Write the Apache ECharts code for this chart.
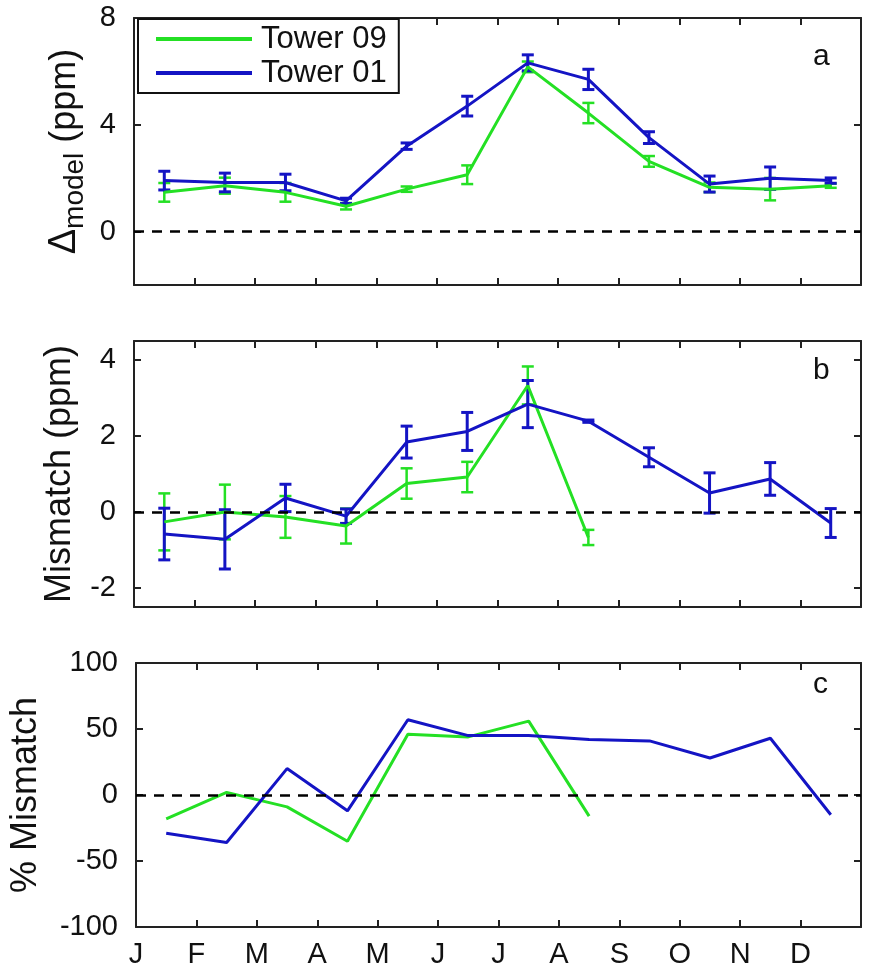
<!DOCTYPE html>
<html>
<head>
<meta charset="utf-8">
<script src="https://cdn.jsdelivr.net/npm/echarts@6/dist/echarts.min.js"></script>
<style>
html,body{margin:0;padding:0;background:#fff;}
#chart{width:873px;height:971px;}
</style>
</head>
<body>
<div id="chart"></div>
<script>
// ---------- data ----------
const months = ['J','F','M','A','M','J','J','A','S','O','N','D'];
const seriesNames = ['Tower 09','Tower 01'];

// panel a: Δmodel (ppm)
const t09Delta    = [1.47, 1.72, 1.47, 0.95, 1.59, 2.13, 6.17, 4.44, 2.63, 1.66, 1.59, 1.72];
const t09DeltaErr = [0.35, 0.30, 0.35, 0.12, 0.10, 0.35, 0.20, 0.38, 0.20, 0.18, 0.42, 0.08];
const t01Delta    = [1.91, 1.84, 1.84, 1.15, 3.20, 4.70, 6.32, 5.70, 3.52, 1.78, 2.00, 1.91];
const t01DeltaErr = [0.35, 0.35, 0.31, 0.10, 0.12, 0.37, 0.30, 0.38, 0.22, 0.30, 0.42, 0.10];

// panel b: Mismatch (ppm)
const t09Mis    = [-0.26, 0.00, -0.13, -0.37, 0.75, 0.92, 3.33, -0.67];
const t09MisErr = [0.75, 0.72, 0.55, 0.46, 0.40, 0.40, 0.50, 0.20];
const t01Mis    = [-0.58, -0.72, 0.37, -0.11, 1.84, 2.12, 2.84, 2.39, 1.44, 0.50, 0.87, -0.29];
const t01MisErr = [0.68, 0.78, 0.36, 0.19, 0.42, 0.50, 0.62, 0.03, 0.25, 0.53, 0.43, 0.38];

// panel c: % Mismatch
const t09Pct = [-18, 2, -9, -35, 46, 44, 56, -16];
const t01Pct = [-29, -36, 20, -12, 57, 45, 45, 42, 41, 28, 43, -15];

// tick values
const yTicksA = [0, 4, 8];
const yTicksB = [-2, 0, 2, 4];
const yTicksC = [-100, -50, 0, 50, 100];

// ---------- styling ----------
const GREEN = '#24e024';
const BLUE = '#1414c4';
const FONT = "'Liberation Sans', Arial, Helvetica, sans-serif";

const pts = arr => arr.map((v, i) => [i + 0.5, v]);
const errs = (vals, e) => vals.map((v, i) => [i + 0.5, v - e[i], v + e[i]]);

function errRender(color, lw) {
  return function (params, api) {
    const x = api.value(0);
    const p1 = api.coord([x, api.value(1)]);
    const p2 = api.coord([x, api.value(2)]);
    const hw = 6;
    const st = { stroke: color, lineWidth: lw };
    return {
      type: 'group',
      children: [
        { type: 'line', shape: { x1: p1[0], y1: p1[1], x2: p2[0], y2: p2[1] }, style: st },
        { type: 'line', shape: { x1: p1[0] - hw, y1: p1[1], x2: p1[0] + hw, y2: p1[1] }, style: st },
        { type: 'line', shape: { x1: p2[0] - hw, y1: p2[1], x2: p2[0] + hw, y2: p2[1] }, style: st }
      ]
    };
  };
}

const grids = [
  { left: 134, right: 12, top: 18, height: 267 },
  { left: 134, right: 12, top: 341, height: 266 },
  { left: 134, right: 12, top: 663, height: 264 }
];

const axisLineStyle = { show: true, onZero: false, lineStyle: { color: '#222', width: 2 } };
const tickStyle = { show: true, inside: true, length: 7, lineStyle: { color: '#222', width: 2 } };

const xAxes = [];
const yAxes = [];
grids.forEach((g, gi) => {
  xAxes.push({
    type: 'value', gridIndex: gi, position: 'bottom', min: 0, max: 12, interval: 1,
    axisLine: axisLineStyle, axisTick: tickStyle, splitLine: { show: false },
    axisLabel: {
      show: gi === 2, margin: 13, fontSize: 29, color: '#111', fontFamily: FONT,
      formatter: v => months[v] || ''
    }
  });
  xAxes.push({
    type: 'value', gridIndex: gi, position: 'top', min: 0, max: 12, interval: 1,
    axisLine: axisLineStyle, axisTick: tickStyle, splitLine: { show: false },
    axisLabel: { show: false }
  });
});

const yCfg = [
  { min: -2, max: 8, ticks: yTicksA, name: '{d|Δ}{s|model}{p| (ppm)}', gap: 44 },
  { min: -2.5, max: 4.5, ticks: yTicksB, name: 'Mismatch (ppm)', gap: 56 },
  { min: -100, max: 100, ticks: yTicksC, name: '% Mismatch', gap: 92 }
];
yCfg.forEach((c, gi) => {
  yAxes.push({
    type: 'value', gridIndex: gi, position: 'left', min: c.min, max: c.max,
    axisLine: axisLineStyle,
    axisTick: Object.assign({}, tickStyle, { customValues: c.ticks }),
    splitLine: { show: false },
    axisLabel: { customValues: c.ticks, margin: 18, fontSize: 29, color: '#111', fontFamily: FONT },
    name: c.name, nameLocation: 'middle', nameRotate: 90, nameGap: c.gap,
    nameTextStyle: {
      fontSize: 36, color: '#111', fontFamily: FONT,
      rich: {
        d: { fontSize: 38, fontFamily: FONT, color: '#111', verticalAlign: 'middle' },
        s: { fontSize: 28, fontFamily: FONT, color: '#111', verticalAlign: 'bottom', padding: [20, 0, 0, 0] },
        p: { fontSize: 36, fontFamily: FONT, color: '#111', verticalAlign: 'middle' }
      }
    }
  });
  yAxes.push({
    type: 'value', gridIndex: gi, position: 'right', min: c.min, max: c.max,
    axisLine: axisLineStyle,
    axisTick: Object.assign({}, tickStyle, { customValues: c.ticks }),
    splitLine: { show: false },
    axisLabel: { show: false }
  });
});

const zeroLine = {
  silent: true, symbol: 'none', label: { show: false },
  lineStyle: { type: [10, 8], color: '#000', width: 2.5 },
  data: [{ yAxis: 0 }]
};

function lineSeries(name, data, gi, color, width, withZero) {
  const s = {
    type: 'line', name: name, data: data, xAxisIndex: gi * 2, yAxisIndex: gi * 2,
    symbol: 'none', showSymbol: false, lineStyle: { color: color, width: width },
    itemStyle: { color: color }, z: 3
  };
  if (withZero) s.markLine = zeroLine;
  return s;
}
function errSeries(name, data, gi, color, width) {
  return {
    type: 'custom', name: name, data: data, xAxisIndex: gi * 2, yAxisIndex: gi * 2,
    renderItem: errRender(color, width), encode: { x: 0, y: [1, 2] }, z: 3
  };
}

const series = [
  // panel a
  lineSeries('Tower 09', pts(t09Delta), 0, GREEN, 3, true),
  errSeries('Tower 09 err a', errs(t09Delta, t09DeltaErr), 0, GREEN, 2.5),
  lineSeries('Tower 01', pts(t01Delta), 0, BLUE, 3, false),
  errSeries('Tower 01 err a', errs(t01Delta, t01DeltaErr), 0, BLUE, 3),
  // panel b
  lineSeries('Tower 09', pts(t09Mis), 1, GREEN, 3, true),
  errSeries('Tower 09 err b', errs(t09Mis, t09MisErr), 1, GREEN, 2.5),
  lineSeries('Tower 01', pts(t01Mis), 1, BLUE, 3, false),
  errSeries('Tower 01 err b', errs(t01Mis, t01MisErr), 1, BLUE, 3),
  // panel c
  lineSeries('Tower 09', pts(t09Pct), 2, GREEN, 3, true),
  lineSeries('Tower 01', pts(t01Pct), 2, BLUE, 3, false)
];

const chart = echarts.init(document.getElementById('chart'), null, { renderer: 'canvas' });
chart.setOption({
  animation: false,
  backgroundColor: '#fff',
  textStyle: { fontFamily: FONT },
  grid: grids,
  xAxis: xAxes,
  yAxis: yAxes,
  legend: {
    data: seriesNames,
    orient: 'vertical', left: 138, top: 19,
    padding: [4, 12, 4, 18], itemGap: 2, itemWidth: 96, itemHeight: 4,
    icon: 'rect',
    borderColor: '#111', borderWidth: 2, borderRadius: 0, backgroundColor: '#fff',
    textStyle: { fontSize: 31, color: '#111', fontFamily: FONT, padding: [0, 0, 0, 4], lineHeight: 32 }
  },
  graphic: [
    { type: 'text', left: 813, top: 42, style: { text: 'a', fontSize: 30, fill: '#111', fontFamily: FONT } },
    { type: 'text', left: 813, top: 356, style: { text: 'b', fontSize: 30, fill: '#111', fontFamily: FONT } },
    { type: 'text', left: 813, top: 670, style: { text: 'c', fontSize: 30, fill: '#111', fontFamily: FONT } }
  ],
  series: series
});
</script>
</body>
</html>
